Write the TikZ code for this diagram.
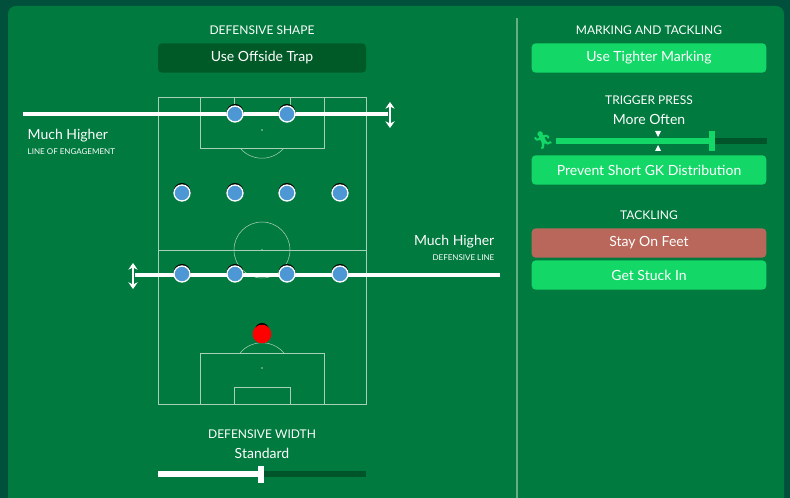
\documentclass[tikz,border=0pt]{standalone}
\usepackage{fontspec}
\setmainfont{Lato}
\newfontfamily\emojifont{Noto Emoji}
\usetikzlibrary{arrows.meta}
\definecolor{bgdark}{HTML}{01503C}
\definecolor{panel}{HTML}{007A3E}
\definecolor{btndark}{HTML}{005A28}
\definecolor{btnlight}{HTML}{13D867}
\definecolor{btnred}{HTML}{B9675A}
\definecolor{playerblue}{HTML}{4C97D4}
\definecolor{trackdark}{HTML}{00542A}
\definecolor{pitchline}{HTML}{A8D0B8}
\tikzset{
  heading/.style={text=white, font=\fontsize{9}{10}\selectfont},
  value/.style={text=white, font=\fontsize{10.5}{12}\selectfont},
  button/.style={rounded corners=3pt, minimum width=176pt, minimum height=22pt, text=white, font=\fontsize{10.5}{12}\selectfont},
  player/.style={circle, fill=playerblue, draw=white, line width=1pt, minimum size=12pt, inner sep=0pt},
  pitch/.style={draw=pitchline, line width=0.4pt},
  bar/.style={white, line width=3.5pt},
  flip/.style={white, line width=2.2pt, {Stealth[length=5pt,width=7pt]}-{Stealth[length=5pt,width=7pt]}}
}
\begin{document}
\begin{tikzpicture}[x=0.75pt,y=-0.75pt]
\useasboundingbox (0,0) rectangle (790,498);
\fill[bgdark] (0,0) rectangle (790,498);
\fill[panel,rounded corners=6pt] (8,6) rectangle (784,510);
\draw[pitchline!60!panel,line width=0.8pt] (517,18) -- (517,498);
% defensive shape
\node[heading] (shape) at (262,30) {DEFENSIVE SHAPE};
\node[button,fill=btndark,minimum width=156pt] (offside) at (262,58) {Use Offside Trap};
% pitch
\draw[pitch] (158,97) rectangle (366,404);
\draw[pitch] (158,250) -- (366,250);
\draw[pitch] (262,250) circle (28);
\draw[pitch] (200,97) rectangle (324,148);
\draw[pitch] (234,97) -- (234,105) (290,97) -- (290,105);
\draw[pitch] (240,148) arc(140:40:28.7);
\draw[pitch] (200,353) rectangle (324,404);
\draw[pitch] (234,387) rectangle (290,404);
\draw[pitch] (240,353) arc(-140:-40:28.7);
\fill[pitchline] (262,130) circle (0.8) (262,250) circle (0.8) (262,368) circle (0.8);
% line of engagement
\draw[bar] (23,114) -- (388,114);
\coordinate (engtop) at (390,102);
\coordinate (engbot) at (390,128);
\draw[flip] (engtop) -- (engbot);
\node[value,anchor=west] (enghigh) at (23,136) {Much Higher};
\node[anchor=west,text=white,font=\fontsize{6}{7}\selectfont] (englabel) at (23,152) {LINE OF ENGAGEMENT};
% defensive line
\draw[bar] (135,275) -- (500,275);
\coordinate (deftop) at (133,263);
\coordinate (defbot) at (133,289);
\draw[flip] (deftop) -- (defbot);
\node[value,anchor=east] (defhigh) at (499,242) {Much Higher};
\node[anchor=east,text=white,font=\fontsize{6}{7}\selectfont] (deflabel) at (499,258) {DEFENSIVE LINE};
% players
\foreach \name/\px/\py in {st1/235/114, st2/287/114,
  ml/182/193, mcl/235/193, mcr/287/193, mr/340/193,
  dl/182/274, dcl/235/274, dcr/287/274, dr/340/274} {
  \fill[black] (\px,\py-1.5) circle (8.5);
  \node[player] (\name) at (\px,\py) {};
}
\fill[black] (262,330) circle (7);
\node[circle,fill=red,minimum size=14pt,inner sep=0pt] (gk) at (262,334) {};
% defensive width
\node[heading] (width) at (262,434) {DEFENSIVE WIDTH};
\node[value] (standard) at (262,453) {Standard};
\draw[trackdark,line width=4pt] (158,474) -- (366,474);
\draw[white,line width=4pt] (158,474) -- (261,474);
\draw[white,line width=4pt] (261,466) -- (261,483);
% marking and tackling
\node[heading] (marking) at (649,30) {MARKING AND TACKLING};
\node[button,fill=btnlight] (tighter) at (649,58) {Use Tighter Marking};
\node[heading] (trigger) at (649,100) {TRIGGER PRESS};
\node[value] (often) at (649,119) {More Often};
\node[text=btnlight,font=\emojifont\fontsize{13}{13}\selectfont,inner sep=0pt] (runner) at (543,141) {🏃};
\draw[trackdark,line width=4pt] (556,141) -- (767,141);
\draw[btnlight,line width=4pt] (556,141) -- (712,141);
\draw[btnlight,line width=5pt] (712,131) -- (712,151);
\fill[white] (655,131) -- (661,131) -- (658,137) -- cycle;
\fill[white] (655,151) -- (661,151) -- (658,145) -- cycle;
\node[button,fill=btnlight] (prevent) at (649,170) {Prevent Short GK Distribution};
\node[heading] (tackling) at (649,215) {TACKLING};
\node[button,fill=btnred] (feet) at (649,243) {Stay On Feet};
\node[button,fill=btnlight] (stuck) at (649,275) {Get Stuck In};
\end{tikzpicture}
\end{document}
